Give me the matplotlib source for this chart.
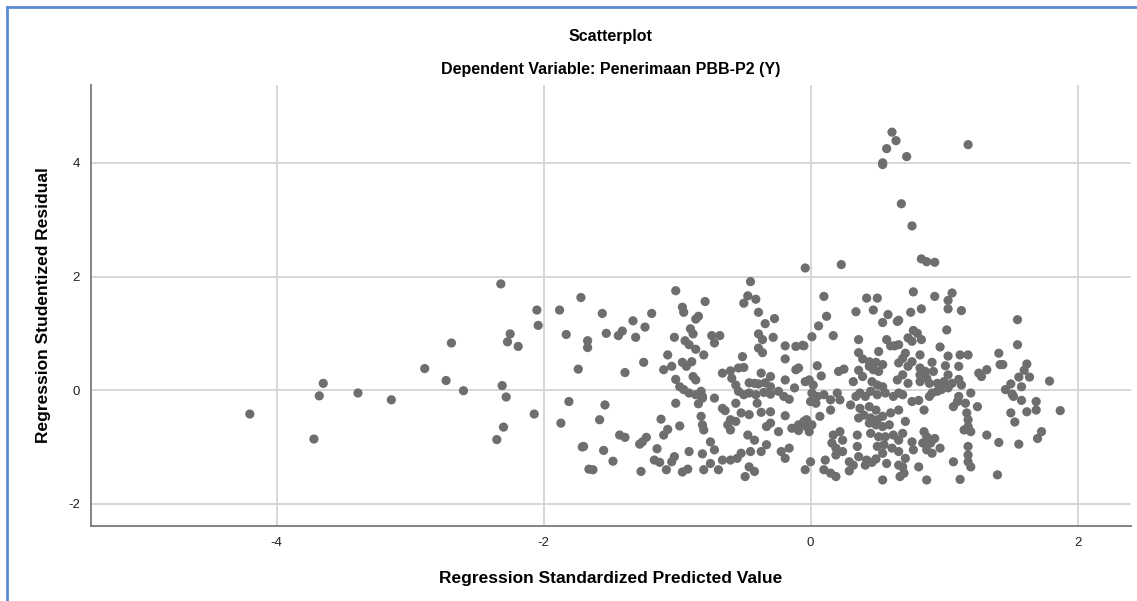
import matplotlib
matplotlib.use("Agg")
import matplotlib.pyplot as plt
from matplotlib.lines import Line2D

plt.rcParams['font.family'] = ['Liberation Sans', 'DejaVu Sans']
plt.rcParams['axes.unicode_minus'] = False

# Regression Standardized Predicted Value (x) / Studentized Residual (y)
pred_left = [-4.20, -3.72, -3.68, -3.65, -3.39, -3.14, -2.89, -2.69, -2.73, -2.60,
             -2.32, -2.31, -2.28, -2.30, -2.35, -2.05, -2.04, -1.88, -1.72, -2.25,
             -2.27, -2.19, -1.83, -1.67, -1.67, -1.74, -1.81, -2.07, -1.87, -1.71, -1.66]
resid_left = [-0.42, -0.86, -0.10, 0.12, -0.05, -0.17, 0.38, 0.83, 0.17, -0.01,
              1.87, 0.08, -0.12, -0.65, -0.87, 1.41, 1.14, 1.41, 1.63, 0.99,
              0.85, 0.77, 0.98, 0.87, 0.75, 0.37, -0.20, -0.42, -0.58, -1.00, -1.39]

pred_mid1 = [-1.01, -1.56, -1.33, -1.19, -1.24, -1.53, -1.41, -1.44, -1.31, -1.39,
             -1.25, -0.96, -0.95, -0.79, -0.86, -0.84, -1.02, -0.90, -0.88, -0.94,
             -0.91, -0.86, -0.80, -1.07, -1.10, -1.04, -0.96, -0.93, -0.89, -0.88,
             -0.86, -1.01, -0.98, -0.95, -0.91, -0.86, -0.81, -0.84, -1.01, -1.54,
             -1.58, -1.12, -0.82, -0.81, -0.80, -0.98, -1.07, -1.10, -1.43, -1.39,
             -1.23, -1.26, -1.28, -1.70, -1.55, -1.15, -0.91, -0.81, -1.17, -1.13,
             -1.02, -1.04, -1.08, -1.63, -1.27, -0.96, -0.92, -0.80, -1.48]
resid_mid1 = [1.75, 1.35, 1.22, 1.35, 1.11, 1.00, 1.04, 0.96, 0.93, 0.31,
              0.49, 1.46, 1.37, 1.56, 1.25, 1.30, 0.93, 1.08, 0.99, 0.87,
              0.80, 0.72, 0.62, 0.62, 0.36, 0.42, 0.49, 0.42, 0.50, 0.24,
              0.18, 0.19, 0.06, 0.01, -0.05, -0.08, -0.11, -0.24, -0.23, -0.26,
              -0.52, -0.51, -0.46, -0.61, -0.70, -0.63, -0.69, -0.79, -0.79, -0.83,
              -0.83, -0.91, -0.95, -0.99, -1.06, -1.03, -1.08, -1.12, -1.23, -1.27,
              -1.17, -1.26, -1.40, -1.40, -1.43, -1.44, -1.39, -1.40, -1.25]

pred_mid2 = [-0.04, -0.45, -0.47, -0.50, -0.41, -0.39, -0.27, -0.34, -0.39, -0.36,
             -0.28, -0.39, -0.36, -0.74, -0.68, -0.72, -0.19, -0.11, -0.06, -0.51,
             -0.19, -0.11, -0.66, -0.60, -0.54, -0.50, -0.37, -0.30, -0.19, -0.59,
             -0.56, -0.46, -0.42, -0.39, -0.34, -0.30, -0.54, -0.50, -0.46, -0.41,
             -0.35, -0.30, -0.24, -0.20, -0.12, -0.04, -0.82, -0.81, -0.72, -0.56,
             -0.40, -0.16, -0.66, -0.64, -0.52, -0.46, -0.37, -0.30, -0.19, -0.60,
             -0.56, -0.62, -0.30, -0.60, -0.33, -0.24, -0.14, -0.09, -0.03, -0.47,
             -0.42, -0.75, -0.72, -0.52, -0.45, -0.37, -0.33, -0.22, -0.16, -0.19,
             -0.66, -0.60, -0.55, -0.75, -0.46, -0.69, -0.42, -0.49, -0.04]
resid_mid2 = [2.15, 1.91, 1.66, 1.53, 1.60, 1.37, 1.26, 1.17, 0.99, 0.89,
              0.93, 0.74, 0.66, 0.96, 0.96, 0.83, 0.78, 0.77, 0.79, 0.59,
              0.55, 0.36, 0.30, 0.34, 0.39, 0.40, 0.30, 0.24, 0.18, 0.21,
              0.09, 0.13, 0.12, 0.11, 0.13, 0.06, -0.02, -0.08, -0.05, -0.08,
              -0.04, -0.07, -0.02, -0.11, 0.04, 0.15, -0.02, -0.14, -0.14, -0.23,
              -0.23, -0.16, -0.32, -0.36, -0.40, -0.43, -0.39, -0.38, -0.45, -0.52,
              -0.55, -0.61, -0.58, -0.70, -0.64, -0.73, -0.67, -0.71, -0.64, -0.79,
              -0.88, -0.91, -1.05, -1.11, -1.08, -1.08, -0.96, -1.08, -1.02, -1.20,
              -1.23, -1.23, -1.20, -1.29, -1.35, -1.40, -1.43, -1.52, -1.40]

pred_mid3 = [0.23, 0.10, 0.42, 0.50, 0.34, 0.47, 0.12, 0.58, 0.54, 0.65,
             0.06, 0.01, 0.17, 0.36, 0.57, 0.60, 0.63, -0.05, 0.51, 0.36,
             0.39, 0.44, 0.49, 0.54, 0.44, 0.47, 0.51, 0.66, 0.69, 0.65,
             0.21, 0.25, 0.05, 0.08, 0.36, 0.39, 0.32, 0.46, 0.50, 0.54,
             -0.09, -0.01, 0.02, 0.01, 0.05, 0.10, 0.20, 0.22, 0.15, 0.00,
             0.04, 0.30, 0.34, 0.37, 0.41, 0.45, 0.50, 0.56, 0.62, 0.66,
             0.15, 0.07, 0.37, 0.44, 0.49, 0.40, 0.45, 0.50, 0.54, 0.60,
             0.66, 0.36, 0.44, 0.49, 0.54, 0.59, -0.09, -0.05, -0.03, 0.01,
             -0.01, 0.22, 0.17, 0.45, 0.51, 0.56, 0.62, 0.66, 0.35, 0.24,
             0.16, 0.35, 0.50, 0.55, 0.61, 0.66, 0.19, 0.24, 0.54, 0.19,
             0.36, 0.42, 0.49, 0.11, 0.00, 0.29, 0.32, 0.41, 0.46, 0.57,
             0.66, 0.10, 0.15, 0.19, 0.29, 0.54, 0.67]
resid_mid3 = [2.21, 1.65, 1.62, 1.62, 1.38, 1.41, 1.30, 1.33, 1.19, 1.21,
              1.13, 0.94, 0.96, 0.89, 0.89, 0.78, 0.78, 0.78, 0.68, 0.66,
              0.55, 0.50, 0.49, 0.45, 0.42, 0.36, 0.33, 0.48, 0.27, 0.18,
              0.33, 0.37, 0.43, 0.25, 0.35, 0.24, 0.15, 0.15, 0.09, 0.06,
              0.39, 0.18, 0.09, -0.05, -0.11, -0.08, -0.05, -0.17, -0.17, -0.20,
              -0.23, -0.26, -0.11, -0.05, -0.11, -0.02, -0.08, -0.05, -0.11, -0.05,
              -0.35, -0.46, -0.32, -0.29, -0.35, -0.44, -0.49, -0.52, -0.46, -0.40,
              -0.35, -0.49, -0.58, -0.61, -0.64, -0.61, -0.61, -0.55, -0.52, -0.61,
              -0.73, -0.73, -0.79, -0.76, -0.82, -0.82, -0.79, -0.88, -0.79, -0.88,
              -0.93, -0.99, -0.99, -0.96, -1.02, -1.08, -1.02, -1.08, -1.11, -1.14,
              -1.17, -1.23, -1.21, -1.23, -1.26, -1.26, -1.32, -1.32, -1.27, -1.29,
              -1.32, -1.40, -1.46, -1.52, -1.42, -1.58, -1.52]

pred_right = [0.83, 0.87, 0.93, 0.77, 0.93, 1.06, 1.03, 0.75, 0.83, 1.03,
              1.13, 0.66, 1.02, 0.77, 0.80, 0.73, 0.83, 0.76, 0.66, 0.97,
              0.71, 0.82, 1.03, 1.12, 1.18, 1.41, 0.69, 0.76, 0.91, 1.01,
              1.11, 1.42, 0.73, 0.82, 0.86, 0.92, 1.26, 1.32, 1.28, 0.82,
              1.03, 0.87, 1.11, 0.73, 0.82, 0.89, 0.95, 1.00, 1.06, 1.13,
              1.46, 0.69, 0.91, 0.95, 0.98, 1.03, 1.20, 0.89, 0.76, 0.81,
              1.11, 1.10, 1.16, 1.07, 0.85, 1.25, 1.17, 1.18, 1.18, 1.15,
              1.20, 1.32, 1.41, 0.71, 0.69, 0.85, 0.87, 0.93, 0.76, 0.84,
              0.90, 0.97, 0.77, 0.87, 0.91, 1.18, 1.18, 1.18, 1.20, 1.07,
              0.71, 0.69, 0.81, 0.70, 0.87, 1.12, 1.40]
resid_right = [2.31, 2.26, 2.25, 1.73, 1.65, 1.71, 1.58, 1.37, 1.43, 1.43,
               1.40, 1.23, 1.06, 1.05, 1.00, 0.92, 0.89, 0.86, 0.80, 0.76,
               0.65, 0.62, 0.60, 0.62, 0.62, 0.65, 0.56, 0.50, 0.49, 0.43,
               0.42, 0.45, 0.42, 0.39, 0.33, 0.33, 0.30, 0.36, 0.24, 0.27,
               0.27, 0.21, 0.19, 0.12, 0.15, 0.12, 0.12, 0.15, 0.12, 0.09,
               0.01, -0.08, -0.05, -0.02, 0.01, 0.04, -0.05, -0.11, -0.20, -0.18,
               -0.11, -0.20, -0.23, -0.29, -0.35, -0.29, -0.40, -0.52, -0.64, -0.70,
               -0.73, -0.79, -0.92, -0.55, -0.76, -0.73, -0.82, -0.85, -0.91, -0.93,
               -0.93, -1.02, -1.05, -1.05, -1.11, -0.99, -1.14, -1.26, -1.35, -1.26,
               -1.20, -1.35, -1.35, -1.46, -1.58, -1.57, -1.49]

pred_far = [1.55, 1.55, 1.44, 1.62, 1.60, 1.56, 1.64, 1.79, 1.50, 1.58,
            1.51, 1.52, 1.58, 1.69, 1.69, 1.62, 1.87, 1.50, 1.53, 1.73,
            1.70, 1.56]
resid_far = [1.24, 0.80, 0.45, 0.46, 0.35, 0.23, 0.23, 0.16, 0.11, 0.06,
             -0.07, -0.11, -0.18, -0.20, -0.35, -0.38, -0.36, -0.40, -0.56, -0.73,
             -0.85, -0.95]

pred_top = [0.61, 0.64, 0.57, 0.72, 0.54, 0.54, 1.18, 0.68, 0.76]
resid_top = [4.54, 4.39, 4.25, 4.11, 4.00, 3.97, 4.32, 3.28, 2.89]

x = pred_left + pred_mid1 + pred_mid2 + pred_mid3 + pred_right + pred_far + pred_top
y = resid_left + resid_mid1 + resid_mid2 + resid_mid3 + resid_right + resid_far + resid_top

fig = plt.figure(figsize=(11.37, 6.01), dpi=100)
ax = fig.add_axes([0.080, 0.1248, 0.9147, 0.7338])

ax.scatter(x, y, s=44, color='#6e6e6e', edgecolors='none', zorder=3)

ax.set_xlim(-5.39, 2.40)
ax.set_ylim(-2.39, 5.37)
ax.set_xticks([-4, -2, 0, 2])
ax.set_yticks([-2, 0, 2, 4])
ax.grid(True, color='#d4d4d4', linewidth=1.3)
ax.set_axisbelow(True)
for side in ['top', 'right']:
    ax.spines[side].set_visible(False)
for side in ['left', 'bottom']:
    ax.spines[side].set_color('#7a7a7a')
    ax.spines[side].set_linewidth(1.3)
ax.tick_params(length=0, labelsize=9.5, pad=8, colors='#222222')

ax.set_xlabel('Regression Standardized Predicted Value', fontsize=12.5,
              fontweight='bold', labelpad=16)
ax.set_ylabel('Regression Studentized Residual', fontsize=12.5,
              fontweight='bold', labelpad=12)

fig.text(0.537, 0.94, 'Scatterplot', ha='center', va='center',
         fontsize=11.5, fontweight='bold')
fig.text(0.537, 0.885, 'Dependent Variable: Penerimaan PBB-P2 (Y)', ha='center',
         va='center', fontsize=11.5, fontweight='bold')

# blue frame of the screenshot
fig.add_artist(Line2D([7 / 1137, 7 / 1137], [0, 1 - 7 / 601],
                      transform=fig.transFigure, color='#5b8ad0', linewidth=2))
fig.add_artist(Line2D([7 / 1137, 1], [1 - 7 / 601, 1 - 7 / 601],
                      transform=fig.transFigure, color='#5b8ad0', linewidth=2))

fig.savefig('out.png', dpi=100)
